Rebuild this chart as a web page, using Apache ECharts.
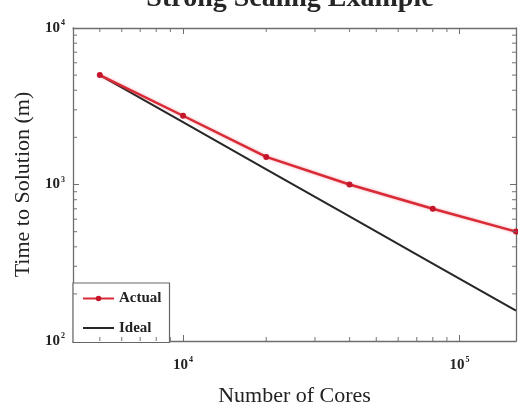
<!DOCTYPE html>
<html>
<head>
<meta charset="utf-8">
<script src="https://cdn.jsdelivr.net/npm/echarts@6/dist/echarts.min.js"></script>
<style>
html,body{margin:0;padding:0;background:#fff;}
#chart{width:518px;height:406px;}
</style>
</head>
<body>
<div id="chart"></div>
<script>
// ---- data ----
const cores = [5000, 10000, 20000, 40000, 80000, 160000];
const actualTime = [5000, 2750, 1500, 1000, 700, 500];
const idealTime = [5000, 2500, 1250, 625, 312.5, 156.25];
const minorXTicks = [5000, 6000, 7000, 8000, 9000, 20000, 30000, 40000, 50000, 60000, 70000, 80000, 90000];
const minorYTicks = [200, 300, 400, 500, 600, 700, 800, 900, 2000, 3000, 4000, 5000, 6000, 7000, 8000, 9000];
const xRange = [4000, 160000];
const yRange = [100, 10000];
const titleText = 'Strong Scaling Example';
const xName = 'Number of Cores';
const yName = 'Time to Solution (m)';

// ---- chart ----
const FONT = '"Liberation Serif", "DejaVu Serif", serif';
const AX = '#6e6e6e';
const chart = echarts.init(document.getElementById('chart'));

function powLabel(v) {
  const e = Math.log10(v);
  if (Math.abs(e - Math.round(e)) > 1e-6) return '';
  return '{b|10}{s|' + Math.round(e) + '}';
}
const richLab = {
  b: {fontFamily: FONT, fontSize: 15, color: '#222', fontWeight: 'bold'},
  s: {fontFamily: FONT, fontSize: 8, color: '#222', fontWeight: 'bold', padding: [0, 0, 10, 1]}
};

function baseAxis(extra) {
  return Object.assign({
    type: 'log',
    logBase: 10,
    axisLine: {show: true, lineStyle: {color: AX, width: 1.3}},
    axisTick: {show: true, inside: true, length: 6, lineStyle: {color: AX, width: 1}},
    splitLine: {show: false},
    minorTick: {show: false},
    minorSplitLine: {show: false}
  }, extra);
}

function tickSeries(data, size, offset) {
  return {
    type: 'scatter',
    xAxisIndex: 0,
    yAxisIndex: 0,
    data: data,
    symbol: 'rect',
    symbolSize: size,
    symbolOffset: offset,
    itemStyle: {color: AX},
    silent: true,
    clip: false,
    z: 5,
    emphasis: {disabled: true}
  };
}

const option = {
  animation: false,
  backgroundColor: '#fff',
  grid: {left: 73, right: 2, top: 28, bottom: 65, containLabel: false, outerBoundsMode: 'none'},
  graphic: [{
    type: 'text',
    x: 290,
    y: -1,
    style: {
      text: titleText,
      font: 'bold 28px ' + FONT,
      fill: '#262626',
      textAlign: 'center',
      textVerticalAlign: 'middle'
    }
  }],
  legend: {
    data: [
      {name: 'Actual'},
      {name: 'Ideal', itemStyle: {opacity: 0}}
    ],
    orient: 'vertical',
    left: 73,
    top: 283,
    padding: [8, 8, 7, 9],
    itemWidth: 31,
    itemHeight: 7,
    itemGap: 14.5,
    backgroundColor: '#fff',
    borderColor: '#666',
    borderWidth: 1.2,
    borderRadius: 0,
    textStyle: {fontFamily: FONT, fontWeight: 'bold', fontSize: 15, color: '#222'}
  },
  xAxis: [
    baseAxis({
      position: 'bottom',
      min: xRange[0], max: xRange[1],
      name: xName,
      nameLocation: 'middle',
      nameGap: 44,
      nameTextStyle: {fontFamily: FONT, fontSize: 22, color: '#222'},
      axisLabel: {show: true, margin: 15, formatter: powLabel, rich: richLab, showMinLabel: false, showMaxLabel: false}
    }),
    baseAxis({
      position: 'top',
      min: xRange[0], max: xRange[1],
      axisLabel: {show: false}
    })
  ],
  yAxis: [
    baseAxis({
      position: 'left',
      min: yRange[0], max: yRange[1],
      name: yName,
      nameLocation: 'middle',
      nameGap: 38,
      nameTextStyle: {fontFamily: FONT, fontSize: 22, color: '#222'},
      axisLabel: {show: true, margin: 8, formatter: powLabel, rich: richLab}
    }),
    baseAxis({
      position: 'right',
      min: yRange[0], max: yRange[1],
      axisLabel: {show: false}
    })
  ],
  series: [
    {
      name: 'Ideal',
      type: 'line',
      data: cores.map((c, i) => [c, idealTime[i]]),
      showSymbol: false,
      symbol: 'none',
      lineStyle: {color: '#262626', width: 2},
      itemStyle: {color: '#262626'},
      z: 3
    },
    {
      name: 'Actual',
      type: 'line',
      data: cores.map((c, i) => [c, actualTime[i]]),
      symbol: 'circle',
      symbolSize: 6,
      lineStyle: {color: '#d92a35', width: 2.4, shadowColor: 'rgba(230,80,100,0.5)', shadowBlur: 3},
      itemStyle: {color: '#c4162a'},
      clip: false,
      z: 4
    },
    tickSeries(minorXTicks.map(v => [v, yRange[0]]), [1.2, 4], [0, -2]),
    tickSeries(minorXTicks.map(v => [v, yRange[1]]), [1.2, 4], [0, 2]),
    tickSeries(minorYTicks.map(v => [xRange[0], v]), [4, 1.2], [2, 0]),
    tickSeries(minorYTicks.map(v => [xRange[1], v]), [4, 1.2], [-2, 0])
  ]
};
chart.setOption(option);
</script>
</body>
</html>
